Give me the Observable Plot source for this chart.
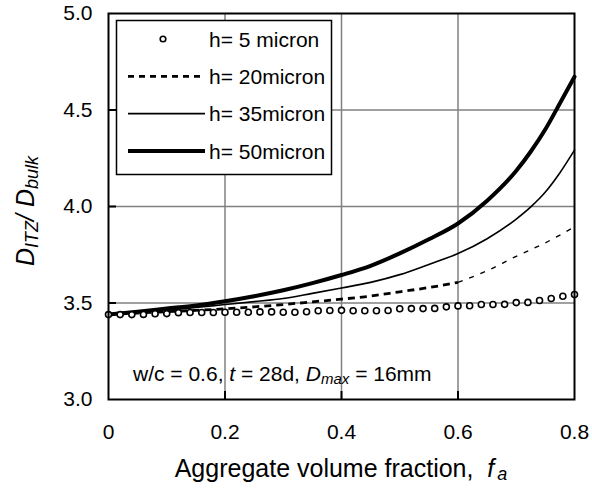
<!DOCTYPE html>
<html><head><meta charset="utf-8">
<script src="https://cdn.jsdelivr.net/npm/d3@7"></script>
<script src="https://cdn.jsdelivr.net/npm/@observablehq/plot@0.6"></script>
<style>body{margin:0;background:#fff;}</style>
</head><body><div id="chart"></div>
<script>
// ---- data ----
const seriesNames = ["h= 5 micron", "h= 20micron", "h= 35micron", "h= 50micron"];
const xTicks = [0, 0.2, 0.4, 0.6, 0.8];
const xTickLabels = ["0", "0.2", "0.4", "0.6", "0.8"];
const yTicks = [3, 3.5, 4, 4.5, 5];
const yTickLabels = ["3.0", "3.5", "4.0", "4.5", "5.0"];

// h = 5 micron (circles)
const faCircles = [0, 0.02, 0.04, 0.06, 0.08, 0.10, 0.12, 0.14, 0.16, 0.18, 0.20, 0.22, 0.24, 0.26, 0.28, 0.30,
  0.32, 0.34, 0.36, 0.38, 0.40, 0.42, 0.44, 0.46, 0.48, 0.50, 0.52, 0.54, 0.56, 0.58, 0.60, 0.62, 0.64, 0.66,
  0.68, 0.70, 0.72, 0.74, 0.76, 0.78, 0.80];
const h5 = [3.440, 3.440, 3.440, 3.441, 3.444, 3.445, 3.450, 3.451, 3.451, 3.451, 3.452, 3.452, 3.452, 3.454,
  3.454, 3.452, 3.452, 3.455, 3.460, 3.461, 3.462, 3.460, 3.460, 3.460, 3.461, 3.470, 3.471, 3.471, 3.472,
  3.480, 3.485, 3.486, 3.492, 3.492, 3.493, 3.502, 3.503, 3.513, 3.523, 3.535, 3.544];

// lines
const faLine = [0, 0.05, 0.10, 0.15, 0.20, 0.25, 0.30, 0.35, 0.40, 0.45, 0.50, 0.55, 0.60, 0.65, 0.70, 0.725, 0.75, 0.775, 0.80];
const h20 = [3.440, 3.448, 3.455, 3.462, 3.470, 3.480, 3.492, 3.506, 3.520, 3.536, 3.558, 3.580, 3.607, 3.667, 3.742, 3.776, 3.812, 3.852, 3.894];
const h35 = [3.440, 3.452, 3.463, 3.477, 3.492, 3.507, 3.523, 3.550, 3.578, 3.607, 3.647, 3.700, 3.756, 3.833, 3.935, 3.998, 4.075, 4.175, 4.292];
const h50 = [3.440, 3.455, 3.471, 3.487, 3.509, 3.535, 3.566, 3.603, 3.645, 3.693, 3.757, 3.830, 3.912, 4.030, 4.185, 4.285, 4.400, 4.535, 4.672];

const rows = (xs, ys) => xs.map((x, i) => ({fa: x, d: ys[i]}));
const r5 = rows(faCircles, h5);
const r20 = rows(faLine, h20);
const r35 = rows(faLine, h35);
const r50 = rows(faLine, h50);

const FONT = "'Liberation Sans', Arial, Helvetica, sans-serif";

const chart = Plot.plot({
  width: 592, height: 490,
  marginLeft: 108, marginRight: 18, marginTop: 13, marginBottom: 91,
  style: {fontFamily: FONT, fontSize: "21px", background: "#fff", color: "#000"},
  x: {domain: [0, 0.8]},
  y: {domain: [3, 5]},
  marks: [
    Plot.gridX(xTicks.slice(1, -1), {stroke: "#808080", strokeOpacity: 1, strokeWidth: 1.5}),
    Plot.gridY(yTicks.slice(1, -1), {stroke: "#808080", strokeOpacity: 1, strokeWidth: 1.5}),
    Plot.line(r20.filter(d => d.fa <= 0.6), {x: "fa", y: "d", curve: "monotone-x", stroke: "#000", strokeWidth: 2.8, strokeDasharray: "7,5", strokeLinecap: "butt"}),
    Plot.line(r20.filter(d => d.fa >= 0.6), {x: "fa", y: "d", curve: "monotone-x", stroke: "#000", strokeWidth: 1.4, strokeDasharray: "5,7", strokeLinecap: "butt"}),
    Plot.line(r35, {x: "fa", y: "d", curve: "monotone-x", stroke: "#000", strokeWidth: 1.6}),
    Plot.line(r50, {x: "fa", y: "d", curve: "monotone-x", stroke: "#000", strokeWidth: 4}),
    Plot.dot(r5, {x: "fa", y: "d", r: 3, stroke: "#000", strokeWidth: 1.6, fill: "#fff"}),
    Plot.frame({stroke: "#000", strokeWidth: 2}),
    Plot.axisX(xTicks, {tickSize: 0, tickPadding: 25, tickFormat: d => xTickLabels[xTicks.indexOf(d)], label: null, fontSize: 21}),
    Plot.axisX(xTicks.slice(1, -1), {tickSize: 8, dy: -8, text: null, label: null, strokeWidth: 2}),
    Plot.axisY(yTicks, {tickSize: 0, tickPadding: 16, tickFormat: d => yTickLabels[yTicks.indexOf(d)], label: null, fontSize: 21}),
    Plot.axisY(yTicks.slice(1, -1), {tickSize: 8, dx: 8, text: null, label: null, strokeWidth: 2})
  ]
});

document.getElementById("chart").appendChild(chart);

(function decorate() {
  const svg = d3.select(chart);
  const sx = chart.scale("x"), sy = chart.scale("y");
  const pL = sx.apply(0), pR = sx.apply(0.8), pT = sy.apply(5), pB = sy.apply(3);

  // x-axis title
  const xt = svg.append("text").attr("x", (pL + pR) / 2).attr("y", pB + 78)
    .attr("text-anchor", "middle").attr("font-size", 25).attr("font-family", FONT).attr("fill", "#000");
  xt.append("tspan").text("Aggregate volume fraction,  ");
  xt.append("tspan").attr("font-style", "italic").text("f");
  xt.append("tspan").attr("font-style", "italic").attr("font-size", 18).attr("dx", 3).attr("dy", 3).text("a");

  // y-axis title
  const yt = svg.append("text").attr("transform", `translate(34,${(pT + pB) / 2 + 5}) rotate(-90)`)
    .attr("text-anchor", "middle").attr("font-size", 25).attr("font-family", FONT).attr("font-style", "italic").attr("fill", "#000");
  yt.append("tspan").text("D");
  yt.append("tspan").attr("font-size", 18).attr("dy", 4).text("ITZ");
  yt.append("tspan").attr("dy", -4).text("/ D");
  yt.append("tspan").attr("font-size", 18).attr("dy", 4).text("bulk");

  // annotation
  const an = svg.append("text").attr("x", pL + 25).attr("y", pB - 18).attr("text-anchor", "start")
    .attr("font-size", 21).attr("font-family", FONT).attr("fill", "#000");
  an.append("tspan").text("w/c = 0.6, ");
  an.append("tspan").attr("font-style", "italic").text("t");
  an.append("tspan").text(" = 28d, ");
  an.append("tspan").attr("font-style", "italic").text("D");
  an.append("tspan").attr("font-style", "italic").attr("font-size", 15).attr("dy", 3).text("max");
  an.append("tspan").attr("dy", -3).text(" = 16mm");

  // legend
  const lg = svg.append("g").attr("text-anchor", "start");
  const lgX = pL + 8.5, lgY = pT + 7.5, lgW = 215, lgH = 154;
  lg.append("rect").attr("x", lgX).attr("y", lgY).attr("width", lgW).attr("height", lgH)
    .attr("fill", "#fff").attr("stroke", "#000").attr("stroke-width", 1.5);
  const legendStyles = [
    {type: "dot"},
    {type: "line", w: 2.8, dash: "6,5"},
    {type: "line", w: 1.6, dash: null},
    {type: "line", w: 4, dash: null}
  ];
  seriesNames.forEach((name, i) => {
    const cy = lgY + 18.5 + i * 37.3;
    const st = legendStyles[i];
    if (st.type === "dot") {
      lg.append("circle").attr("cx", lgX + 46.5).attr("cy", cy).attr("r", 2.8)
        .attr("fill", "#fff").attr("stroke", "#000").attr("stroke-width", 1.6);
    } else {
      const l = lg.append("line").attr("x1", lgX + 11.5).attr("x2", lgX + 88.5).attr("y1", cy).attr("y2", cy)
        .attr("stroke", "#000").attr("stroke-width", st.w);
      if (st.dash) l.attr("stroke-dasharray", st.dash);
    }
    lg.append("text").attr("x", lgX + 92.5).attr("y", cy + 7.7).attr("text-anchor", "start").attr("font-size", 21)
      .attr("font-family", FONT).attr("fill", "#000").text(name);
  });
})();
</script>
</body></html>
